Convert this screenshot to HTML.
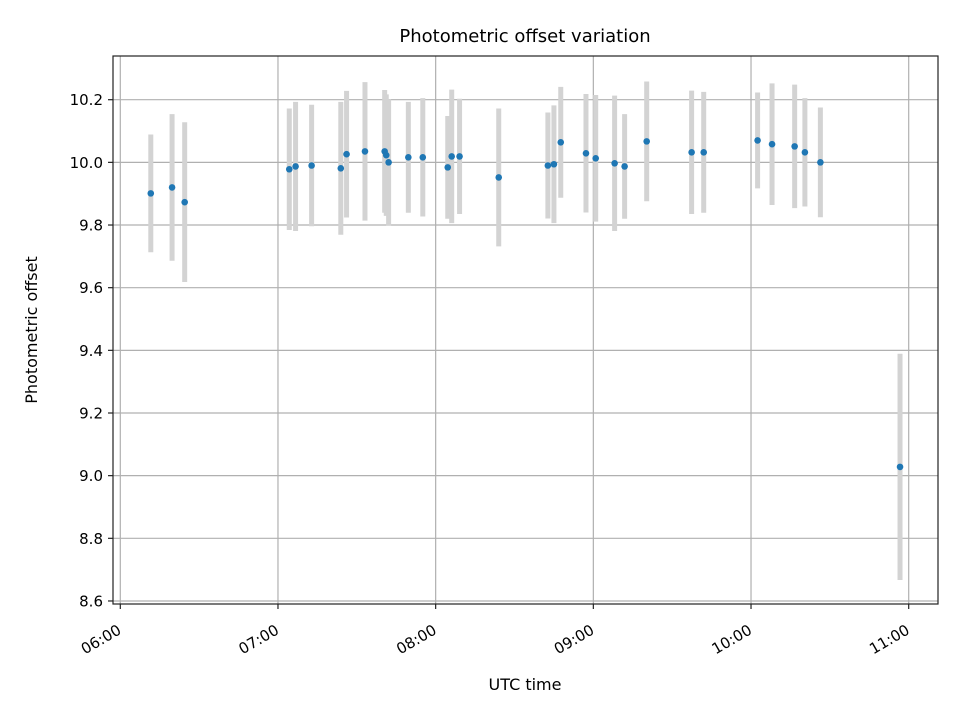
<!DOCTYPE html>
<html><head><meta charset="utf-8"><style>
body{margin:0;background:#fff}
svg{display:block;font-family:"DejaVu Sans","Liberation Sans",sans-serif}
</style></head><body>
<svg id="chart" width="960" height="720" viewBox="0 0 960 720" xmlns="http://www.w3.org/2000/svg">
<rect x="0" y="0" width="960" height="720" fill="#fff"/>
<g id="grid"></g>
<g id="bars"></g>
<g id="pts"></g>
<rect x="113" y="56" width="825" height="548" fill="none" stroke="#222" stroke-width="1.2"/>
<g id="ticks" font-size="15" fill="#000"></g>
<text x="525" y="42" text-anchor="middle" font-size="18">Photometric offset variation</text>
<text x="525" y="690" text-anchor="middle" font-size="16">UTC time</text>
<text transform="translate(37,330) rotate(-90)" text-anchor="middle" font-size="16">Photometric offset</text>
</svg>
<script>
// minutes after 06:00
const times=[11.6,19.7,24.5,64.3,66.7,72.8,83.9,86.1,93.1,100.6,101.2,102.1,109.6,115.1,124.6,126.1,129.1,144.0,162.7,165.0,167.6,177.2,180.9,188.1,191.9,200.3,217.4,222.0,242.5,248.0,256.6,260.5,266.4,296.7];
const offsets=[9.901,9.920,9.873,9.978,9.987,9.990,9.981,10.026,10.035,10.035,10.023,10.000,10.016,10.016,9.984,10.019,10.019,9.952,9.990,9.994,10.064,10.029,10.013,9.997,9.987,10.067,10.032,10.032,10.070,10.058,10.051,10.032,10.000,9.028];
const errors=[0.188,0.234,0.255,0.194,0.206,0.194,0.212,0.202,0.221,0.196,0.194,0.201,0.177,0.189,0.164,0.213,0.184,0.220,0.169,0.188,0.177,0.189,0.202,0.216,0.167,0.191,0.197,0.193,0.153,0.194,0.197,0.173,0.175,0.361];
const yTicks=[8.6,8.8,9.0,9.2,9.4,9.6,9.8,10.0,10.2];
const xTickMinutes=[0,60,120,180,240,300];
const xTickLabels=["06:00","07:00","08:00","09:00","10:00","11:00"];
const NS="http://www.w3.org/2000/svg";
const xs=m=>120.3+m*2.628;
const ys=v=>99.7+(10.2-v)*313.3;
function mk(tag,attrs,parent){const e=document.createElementNS(NS,tag);for(const k in attrs)e.setAttribute(k,attrs[k]);parent.appendChild(e);return e;}
const grid=document.getElementById('grid'),bars=document.getElementById('bars'),pts=document.getElementById('pts'),ticks=document.getElementById('ticks');
yTicks.forEach(v=>{
  const y=ys(v);
  const g=mk('line',{x1:113,x2:938,y1:y,y2:y,stroke:'#b0b0b0','stroke-width':1.2},grid);
  
  
  const t=mk('line',{x1:108,x2:113,y1:y,y2:y,stroke:'#222','stroke-width':1.2},ticks);
  
  
  const l=mk('text',{x:103,y:y+5.5,'text-anchor':'end'},ticks);
  l.textContent=v.toFixed(1);
  
  
});
xTickMinutes.forEach((m,i)=>{
  const x=xs(m);
  const g=mk('line',{x1:x,x2:x,y1:56,y2:604,stroke:'#b0b0b0','stroke-width':1.2},grid);
  
  
  const t=mk('line',{x1:x,x2:x,y1:604,y2:609,stroke:'#222','stroke-width':1.2},ticks);
  
  
  const ax=x+2, ay=633;
  const l=mk('text',{x:ax,y:ay,'text-anchor':'end',transform:`rotate(-30 ${ax} ${ay})`},ticks);
  l.textContent=xTickLabels[i];
  
  
});
times.forEach((m,i)=>{
  const x=xs(m);
  const b=mk('line',{x1:x,x2:x,y1:ys(offsets[i]+errors[i]),y2:ys(offsets[i]-errors[i]),stroke:'#d3d3d3','stroke-width':5},bars);
  
  
  const c=mk('circle',{cx:x,cy:ys(offsets[i]),r:3.3,fill:'#1f77b4'},pts);
  
  
});
</script>
</body></html>
